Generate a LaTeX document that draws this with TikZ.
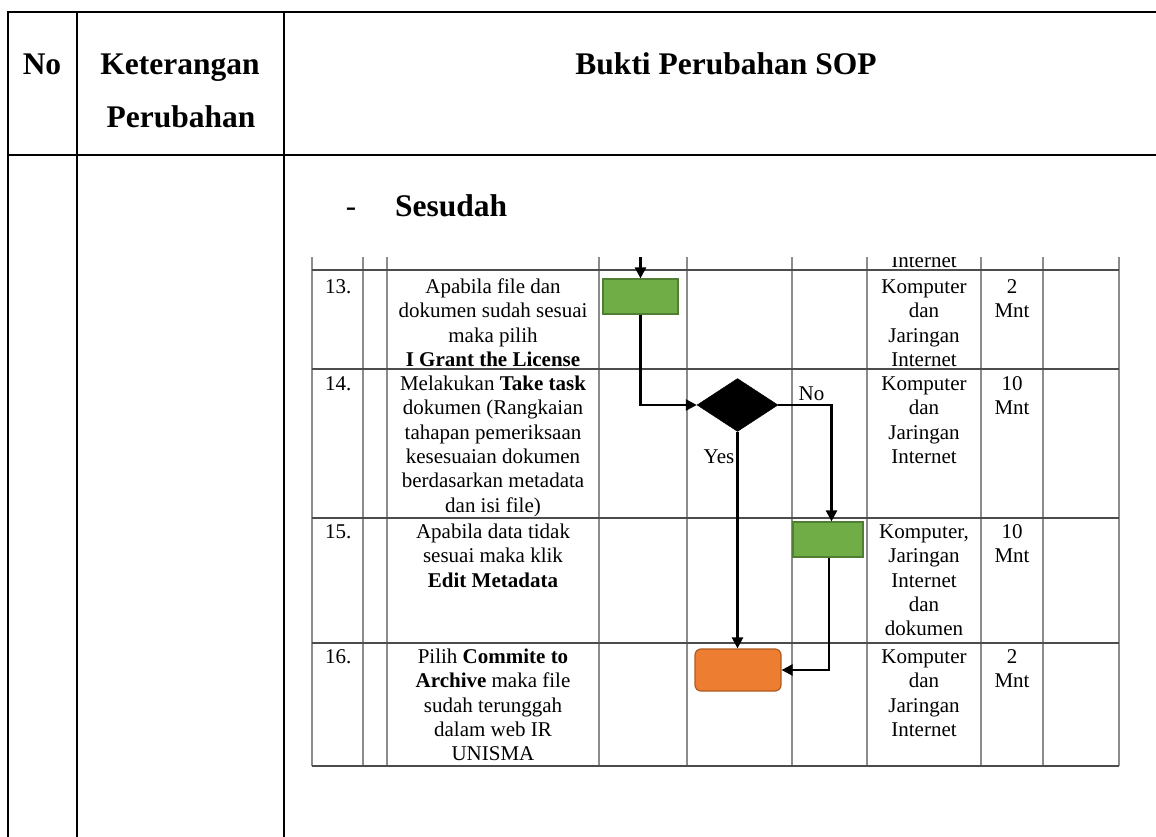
\documentclass[tikz,border=0pt]{standalone}
\usepackage{fontspec}
\setmainfont{Liberation Serif}
\usetikzlibrary{shapes.geometric,arrows.meta,calc}
\newcommand\cellfont{\fontsize{21}{24.4}\selectfont}
\newcommand\hdfont{\fontsize{31.5}{36}\selectfont\bfseries}
\definecolor{gfill}{HTML}{70AD47}
\definecolor{gdraw}{HTML}{507E32}
\definecolor{ofill}{HTML}{ED7D31}
\definecolor{odraw}{HTML}{AE5A21}
\tikzset{
  outer/.style={line width=2.5pt,black},
  hline/.style={line width=1.3pt,black!70},
  vline/.style={line width=1.3pt,black!45},
  hd/.style={font=\hdfont,inner sep=0,anchor=base},
  cell/.style={font=\cellfont,inner sep=0,align=center,anchor=north},
  num/.style={font=\cellfont,inner sep=0,anchor=base west},
  gbox/.style={rectangle,fill=gfill,draw=gdraw,line width=1.2pt,inner sep=0},
  obox/.style={rectangle,rounded corners=6pt,fill=ofill,draw=odraw,line width=1.2pt,inner sep=0},
  dbox/.style={diamond,fill=black,draw=black,inner sep=0},
  arr/.style={line width=2.4pt,-{Triangle[length=11pt,width=11pt]}},
  lbl/.style={font=\cellfont,inner sep=0,anchor=base}
}
\begin{document}
\begin{tikzpicture}[x=1pt,y=-1pt]
\useasboundingbox (0,0) rectangle (1156,837);
% outer table
\draw[outer] (1156,12) -- (8,12) -- (8,837);
\draw[outer] (8,155) -- (1156,155);
\draw[outer] (77,12) -- (77,837);
\draw[outer] (284,12) -- (284,837);
\node[hd] (hno) at (42,75) {No};
\node[hd] (hket1) at (180,75) {Keterangan};
\node[hd] (hket2) at (181,128) {Perubahan};
\node[hd] (hbukti) at (726,75) {Bukti Perubahan SOP};
\node[font=\fontsize{31}{36}\selectfont,inner sep=0,anchor=base] (dash) at (351,217) {-};
\node[hd,anchor=base west] (sesudah) at (395,217) {Sesudah};
% inner table
\foreach \x in {312,363,387,599,687,792,867,981,1043,1119}
  \draw[vline] (\x,257) -- (\x,766);
\foreach \y in {270,369,518,643,766}
  \draw[hline] (312,\y) -- (1119,\y);
\begin{scope}
\clip (867,257) rectangle (981,270);
\node[lbl] (prevint) at (924,267) {Internet};
\end{scope}
% row 13
\node[num] (n13) at (325,293) {13.};
\node[cell] (d13) at (493,276) {\strut Apabila file dan\\dokumen sudah sesuai\\maka pilih\\\textbf{I Grant the License}};
\node[cell] (r13) at (924,276) {\strut Komputer\\dan\\Jaringan\\Internet};
\node[cell] (t13) at (1012,276) {\strut 2\\Mnt};
% row 14
\node[num] (n14) at (325,390) {14.};
\node[cell] (d14) at (493,373) {\strut Melakukan \textbf{Take task}\\dokumen (Rangkaian\\tahapan pemeriksaan\\kesesuaian dokumen\\berdasarkan metadata\\dan isi file)};
\node[cell] (r14) at (924,373) {\strut Komputer\\dan\\Jaringan\\Internet};
\node[cell] (t14) at (1012,373) {\strut 10\\Mnt};
% row 15
\node[num] (n15) at (325,538) {15.};
\node[cell] (d15) at (493,521) {\strut Apabila data tidak\\sesuai maka klik\\\textbf{Edit Metadata}};
\node[cell] (r15) at (924,521) {\strut Komputer,\\Jaringan\\Internet\\dan\\dokumen};
\node[cell] (t15) at (1012,521) {\strut 10\\Mnt};
% row 16
\node[num] (n16) at (325,663) {16.};
\node[cell] (d16) at (493,646) {\strut Pilih \textbf{Commite to}\\\textbf{Archive} maka file\\sudah terunggah\\dalam web IR\\UNISMA};
\node[cell] (r16) at (924,646) {\strut Komputer\\dan\\Jaringan\\Internet};
\node[cell] (t16) at (1012,646) {\strut 2\\Mnt};
% flowchart
\coordinate (in) at (640.5,257);
\node[gbox,minimum width=75,minimum height=35] (g1) at (640.5,296.5) {};
\node[dbox,minimum width=81,minimum height=53] (dia) at (737.5,405) {};
\node[gbox,minimum width=70,minimum height=35] (g2) at (828,539.5) {};
\node[obox,minimum width=86,minimum height=42] (or) at (738,670) {};
\draw[arr] (in) -- (g1.north);
\draw[arr] (g1.south) |- (dia.west);
\draw[arr] (dia.east) -| ([xshift=3.5pt]g2.north);
\draw[arr] (dia.south) -- (dia.south |- or.north);
\draw[arr] ([xshift=1pt]g2.south) |- (or.east);
\node[lbl] (no) at (811.5,400) {No};
\node[lbl] (yes) at (719,463) {Yes};
\end{tikzpicture}
\end{document}
